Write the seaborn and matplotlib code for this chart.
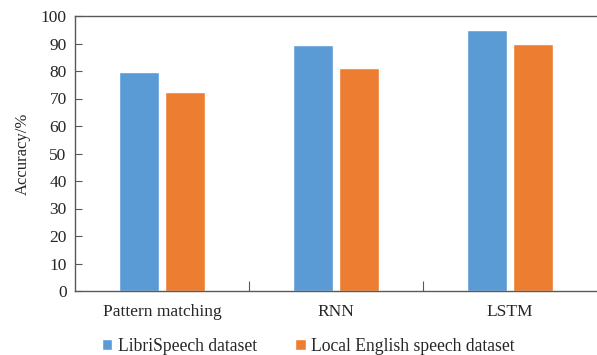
import pandas as pd
import matplotlib.pyplot as plt
import seaborn as sns

models = ['Pattern matching', 'RNN', 'LSTM']
datasets = ['LibriSpeech dataset', 'Local English speech dataset']
libri_acc = [79.6, 89.5, 95.0]
local_acc = [72.3, 81.2, 89.9]
colors = ['#5B9BD5', '#ED7D31']

df = pd.DataFrame({
    'model': models * 2,
    'dataset': [datasets[0]] * 3 + [datasets[1]] * 3,
    'accuracy': libri_acc + local_acc,
})

sns.set_style('white')
plt.rcParams['font.family'] = ['Liberation Serif', 'DejaVu Serif']

fig = plt.figure(figsize=(5.97, 3.55), dpi=100)
ax = fig.add_axes([75 / 597, 64 / 355, 522 / 597, 275 / 355])

sns.barplot(data=df, x='model', y='accuracy', hue='dataset', palette=colors,
            width=0.52, gap=0.12, saturation=1, ax=ax, legend=True)

ax.set_xlim(-0.5, 2.5)
ax.set_ylim(0, 100)
ax.set_yticks(range(0, 101, 10))
ax.set_xlabel('')
ax.set_ylabel('Accuracy/%', fontsize=12, labelpad=7)
ax.tick_params(axis='y', direction='in', length=5, width=0.8, color='#595959',
               labelsize=12.5, pad=6, left=True)
ax.tick_params(axis='x', length=0, labelsize=12.5, pad=9)
# category boundary ticks
ax.set_xticks([0.5, 1.5], minor=True)
ax.tick_params(axis='x', which='minor', direction='in', length=7, width=0.8,
               color='#595959', bottom=True)

for side in ['left', 'bottom', 'top']:
    ax.spines[side].set_color('#595959')
    ax.spines[side].set_linewidth(1.0)
ax.spines['right'].set_visible(False)

handles, labels = ax.get_legend_handles_labels()
ax.legend(handles, labels, loc='upper center', bbox_to_anchor=(0.447, -0.126),
          ncol=2, frameon=False, fontsize=12.7, handlelength=0.6, handleheight=0.6,
          handletextpad=0.3, columnspacing=2.2, borderpad=0.2)

fig.savefig('out.png', dpi=100)
